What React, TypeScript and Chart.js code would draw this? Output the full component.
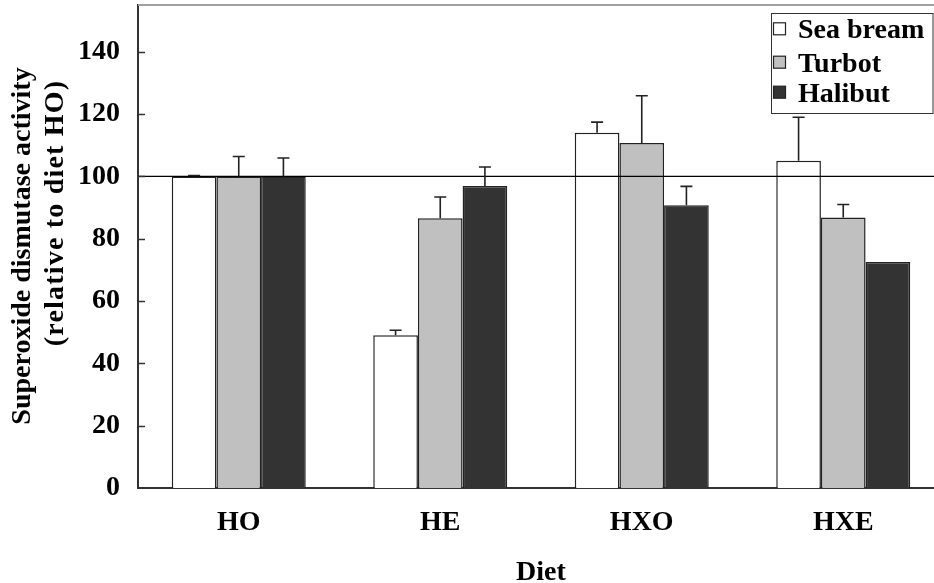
import React, { useEffect, useRef } from "react";
import { Chart, registerables } from "chart.js";

Chart.register(...registerables);

const categories = ["HO", "HE", "HXO", "HXE"];
const seriesNames = ["Sea bream", "Turbot", "Halibut"];
const seaBream = [100, 49, 114, 105];
const seaBreamErr = [0.3, 1.6, 3.4, 14];
const turbot = [100, 86.6, 110.7, 86.8];
const turbotErr = [6.4, 6.8, 15.2, 4.2];
const halibut = [100, 96.9, 90.7, 72.5];
const halibutErr = [5.9, 6.1, 6.1, 0];
const yTicks = [0, 20, 40, 60, 80, 100, 120, 140];
const yMax = 155;
const referenceValue = 100;
const yTitleLines = ["Superoxide dismutase activity", "(relative to diet HO)"];
const xTitle = "Diet";

const seriesColors = ["#ffffff", "#c0c0c0", "#333333"];
const FONT = "'Liberation Serif', 'Times New Roman', serif";

export default function App() {
  const ref = useRef<HTMLCanvasElement | null>(null);

  useEffect(() => {
    const canvas = ref.current;
    if (!canvas) return;
    const values = [seaBream, turbot, halibut];
    const errors = [seaBreamErr, turbotErr, halibutErr];

    const decor = {
      id: "decor",
      afterDatasetsDraw(chart: any) {
        const { ctx, chartArea: a, scales } = chart;
        const y = scales.y;
        ctx.save();
        const yr = y.getPixelForValue(referenceValue);
        ctx.strokeStyle = "#000";
        ctx.lineWidth = 1.3;
        ctx.beginPath();
        ctx.moveTo(a.left, yr);
        ctx.lineTo(a.right, yr);
        ctx.stroke();
        // error bars (upper only)
        ctx.strokeStyle = "#222";
        ctx.lineWidth = 1.6;
        values.forEach((vals, i) => {
          const meta = chart.getDatasetMeta(i);
          meta.data.forEach((el: any, j: number) => {
            const err = errors[i][j];
            if (!err) return;
            const yTop = y.getPixelForValue(vals[j] + err);
            const yBar = y.getPixelForValue(vals[j]);
            ctx.beginPath();
            ctx.moveTo(el.x, yBar);
            ctx.lineTo(el.x, yTop);
            ctx.moveTo(el.x - 6, yTop);
            ctx.lineTo(el.x + 6, yTop);
            ctx.stroke();
          });
        });
        ctx.restore();
      },
      afterDraw(chart: any) {
        const { ctx, chartArea: a, scales } = chart;
        const y = scales.y;
        ctx.save();
        // top border
        ctx.strokeStyle = "#a0a0a0";
        ctx.lineWidth = 2;
        ctx.beginPath();
        ctx.moveTo(a.left, a.top);
        ctx.lineTo(a.right, a.top);
        ctx.stroke();
        // inward ticks
        ctx.strokeStyle = "#333";
        ctx.lineWidth = 1.5;
        yTicks.forEach((v) => {
          if (v === 0) return;
          const py = Math.round(y.getPixelForValue(v)) + 0.5;
          ctx.beginPath();
          ctx.moveTo(a.left, py);
          ctx.lineTo(a.left + 7, py);
          ctx.stroke();
        });
        // y title
        ctx.fillStyle = "#000";
        ctx.font = `bold 28px ${FONT}`;
        ctx.textAlign = "center";
        ctx.textBaseline = "alphabetic";
        const yTitlePos = [
          { x: 30, y: 246, sp: "0px" },
          { x: 63, y: 213, sp: "1.2px" },
        ];
        yTitleLines.forEach((line, i) => {
          ctx.save();
          ctx.translate(yTitlePos[i].x, yTitlePos[i].y);
          ctx.rotate(-Math.PI / 2);
          (ctx as any).letterSpacing = yTitlePos[i].sp;
          ctx.fillText(line, 0, 0);
          ctx.restore();
        });
        // x title
        ctx.fillText(xTitle, (a.left + a.right) / 2, 580);
        // legend
        const lx = 771.5, ly = 13.5, lw = 161.5, lh = 100;
        ctx.fillStyle = "#fff";
        ctx.fillRect(lx, ly, lw, lh);
        ctx.strokeStyle = "#333";
        ctx.lineWidth = 1;
        ctx.strokeRect(lx, ly, lw, lh);
        const rowBase = [38.3, 71.7, 101.7];
        ctx.textAlign = "left";
        seriesNames.forEach((name, i) => {
          const b = rowBase[i];
          ctx.fillStyle = seriesColors[i];
          ctx.fillRect(773.5, b - 15.5, 12, 12);
          ctx.strokeStyle = "#222";
          ctx.lineWidth = 1.2;
          ctx.strokeRect(773.5, b - 15.5, 12, 12);
          ctx.fillStyle = "#000";
          ctx.font = `bold 28px ${FONT}`;
          ctx.fillText(name, 798, b);
        });
        ctx.restore();
      },
    };

    const chart = new Chart(canvas, {
      type: "bar",
      data: {
        labels: categories,
        datasets: values.map((vals, i) => ({
          label: seriesNames[i],
          data: vals,
          backgroundColor: seriesColors[i],
          borderColor: "#222",
          borderWidth: 1.5,
          categoryPercentage: 0.665,
          barPercentage: 1.0,
        })),
      },
      options: {
        responsive: false,
        animation: false,
        devicePixelRatio: 1,
        layout: { padding: { left: 0, right: 0, top: 5, bottom: 0 } },
        plugins: { legend: { display: false }, title: { display: false }, tooltip: { enabled: false } },
        scales: {
          x: {
            grid: { display: false, drawTicks: false },
            border: { display: true, color: "#333", width: 2 },
            ticks: {
              color: "#000",
              padding: 18,
              font: { family: FONT, weight: "bold", size: 28 },
            },
            afterFit: (s: any) => {
              s.height = 95;
              s.paddingLeft = 0;
              s.paddingRight = 0;
            },
          },
          y: {
            min: 0,
            max: yMax,
            grid: { display: false, drawTicks: false },
            border: { display: true, color: "#333", width: 2 },
            ticks: {
              color: "#000",
              padding: 18,
              font: { family: FONT, weight: "bold", size: 28 },
            },
            afterBuildTicks: (s: any) => {
              s.ticks = yTicks.map((v) => ({ value: v }));
            },
            afterFit: (s: any) => {
              s.width = 138;
              s.paddingTop = 0;
              s.paddingBottom = 0;
            },
          },
        },
      },
      plugins: [decor],
    } as any);

    return () => chart.destroy();
  }, []);

  return (
    <div
      style={{
        position: "fixed",
        left: 0,
        top: 0,
        width: 934,
        height: 583,
        overflow: "hidden",
        background: "#fff",
      }}
    >
      <canvas ref={ref} width={944} height={583} style={{ display: "block" }} />
    </div>
  );
}
